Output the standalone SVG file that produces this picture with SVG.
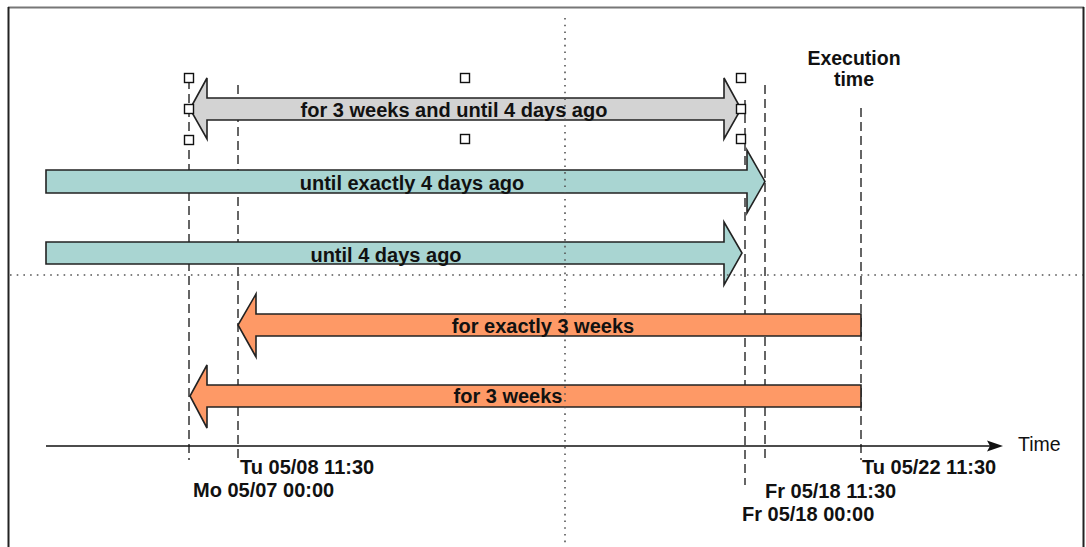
<svg xmlns="http://www.w3.org/2000/svg" width="1086" height="547" viewBox="0 0 1086 547">
  <style>
    .frame { stroke: #222; stroke-width: 2; fill: none; }
    .guide { stroke: #333; stroke-width: 1.5; stroke-dasharray: 9 5; fill: none; }
    .dotted { stroke: #555; stroke-width: 1.6; stroke-dasharray: 1.6 5.1; fill: none; }
    .arrow { stroke: #222; stroke-width: 1.6; stroke-linejoin: miter; }
    .gray { fill: #d3d3d3; }
    .teal { fill: #a9d5d2; }
    .orange { fill: #fe9966; }
    .handle { fill: #fff; stroke: #111; stroke-width: 1.4; }
    .lbl { font-family: "Liberation Sans", Arial, sans-serif; font-weight: bold; font-size: 20px; fill: #111; text-anchor: middle; }
    .head { font-family: "Liberation Sans", Arial, sans-serif; font-weight: bold; font-size: 19.5px; fill: #111; text-anchor: middle; }
    .date { font-family: "Liberation Sans", Arial, sans-serif; font-weight: bold; font-size: 20px; fill: #111; }
    .axisText { font-family: "Liberation Sans", Arial, sans-serif; font-size: 19.5px; fill: #111; }
  </style>

  <rect width="1086" height="547" fill="#fff"/>

  <!-- frame -->
  <g id="frame">
    <line x1="8" y1="7.5" x2="1084" y2="7.5" stroke="#777" stroke-width="2"/>
    <line x1="8.5" y1="7" x2="8.5" y2="547" stroke="#222" stroke-width="2"/>
    <line x1="1083.5" y1="7" x2="1083.5" y2="547" stroke="#222" stroke-width="2"/>
  </g>

  <!-- dashed time markers -->
  <g id="markers">
    <line class="guide" x1="189" y1="80" x2="189" y2="460"/>
    <line class="guide" x1="238" y1="85" x2="238" y2="460"/>
    <line class="guide" x1="745" y1="100" x2="745" y2="485"/>
    <line class="guide" x1="765" y1="85" x2="765" y2="460"/>
    <line class="guide" x1="861" y1="108" x2="861" y2="460"/>
  </g>

  <!-- time axis -->
  <g id="axis">
    <line x1="46" y1="446" x2="990" y2="446" stroke="#111" stroke-width="1.5"/>
    <polygon points="987,440.5 1003,446 987,451.5 990,446" fill="#111"/>
    <text class="axisText" x="1018" y="451">Time</text>
  </g>

  <!-- intervals -->
  <g id="span-3w-until-4d">
    <polygon class="arrow gray" points="190,109 207,78 207,98 724,98 724,78 741,109 724,139 724,120 207,120 207,139"/>
  </g>
  <g id="until-exactly-4d">
    <polygon class="arrow teal" points="46,170 747,170 747,150 765,181.5 747,213 747,193 46,193"/>
  </g>
  <g id="until-4d">
    <polygon class="arrow teal" points="46,242 724,242 724,222 742,253 724,285 724,264 46,264"/>
  </g>
  <g id="exactly-3w">
    <polygon class="arrow orange" points="861,314 256,314 256,294 238,325 256,357 256,336 861,336"/>
  </g>
  <g id="for-3w">
    <polygon class="arrow orange" points="861,385 207,385 207,365 190,396 207,428 207,407 861,407"/>
  </g>

  <!-- dotted quadrant lines -->
  <g id="quadrants">
    <line class="dotted" x1="565" y1="18" x2="565" y2="547"/>
    <line class="dotted" x1="10" y1="275" x2="1083" y2="275"/>
  </g>

  <!-- selection handles -->
  <g id="handles">
    <rect class="handle" x="184.5" y="73.5" width="9" height="9"/>
    <rect class="handle" x="184.5" y="104.5" width="9" height="9"/>
    <rect class="handle" x="184.5" y="135.5" width="9" height="9"/>
    <rect class="handle" x="460.5" y="73.5" width="9" height="9"/>
    <rect class="handle" x="460.5" y="134.5" width="9" height="9"/>
    <rect class="handle" x="736.5" y="73.5" width="9" height="9"/>
    <rect class="handle" x="736.5" y="104.5" width="9" height="9"/>
    <rect class="handle" x="736.5" y="134.5" width="9" height="9"/>
  </g>

  <!-- interval labels -->
  <g id="labels">
    <text class="lbl" x="454" y="117">for 3 weeks and until 4 days ago</text>
    <text class="lbl" x="412" y="190">until exactly 4 days ago</text>
    <text class="lbl" x="386" y="262">until 4 days ago</text>
    <text class="lbl" x="543" y="333">for exactly 3 weeks</text>
    <text class="lbl" x="508" y="403">for 3 weeks</text>
  </g>

  <!-- execution time heading -->
  <g id="execution-time">
    <text class="head" x="854" y="65">Execution</text>
    <text class="head" x="854" y="86">time</text>
  </g>

  <!-- date labels -->
  <g id="dates">
    <text class="date" x="240" y="474">Tu 05/08 11:30</text>
    <text class="date" x="193" y="497">Mo 05/07 00:00</text>
    <text class="date" x="765" y="498">Fr 05/18 11:30</text>
    <text class="date" x="742" y="521">Fr 05/18 00:00</text>
    <text class="date" x="862" y="474">Tu 05/22 11:30</text>
  </g>
</svg>
